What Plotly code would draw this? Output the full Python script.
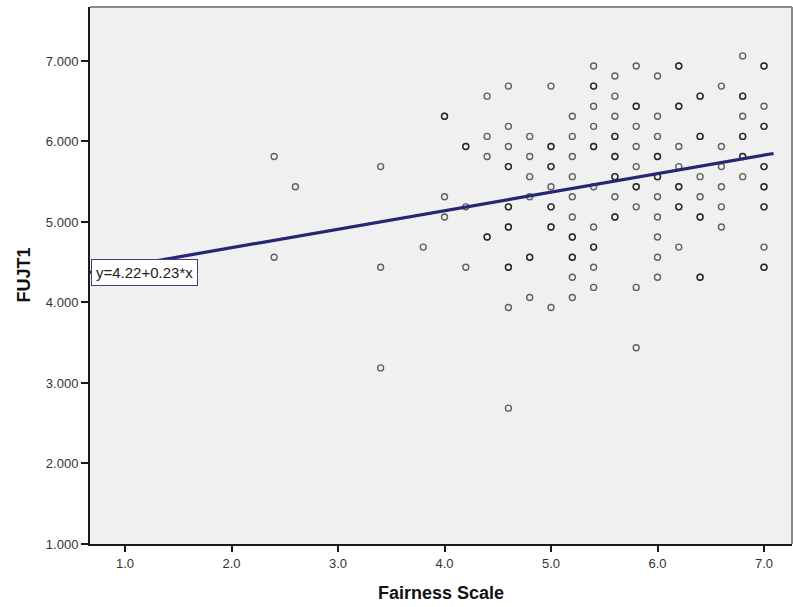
import plotly.graph_objects as go

# Fairness Scale (x) and FUJT1 (y); repeated pairs are overlapping cases
fairness = [2.4, 2.4, 2.6, 3.4, 3.4, 3.4, 3.8,
            4.0, 4.0, 4.0, 4.0,
            4.2, 4.2, 4.2, 4.2,
            4.4, 4.4, 4.4, 4.4, 4.4,
            4.6, 4.6, 4.6, 4.6, 4.6, 4.6, 4.6, 4.6, 4.6, 4.6, 4.6, 4.6, 4.6,
            4.8, 4.8, 4.8, 4.8, 4.8, 4.8, 4.8,
            5.0, 5.0, 5.0, 5.0, 5.0, 5.0, 5.0, 5.0, 5.0, 5.0, 5.0,
            5.2, 5.2, 5.2, 5.2, 5.2, 5.2, 5.2, 5.2, 5.2, 5.2, 5.2, 5.2,
            5.4, 5.4, 5.4, 5.4, 5.4, 5.4, 5.4, 5.4, 5.4, 5.4, 5.4, 5.4, 5.4,
            5.6, 5.6, 5.6, 5.6, 5.6, 5.6, 5.6, 5.6, 5.6, 5.6, 5.6, 5.6,
            5.8, 5.8, 5.8, 5.8, 5.8, 5.8, 5.8, 5.8, 5.8, 5.8, 5.8,
            6.0, 6.0, 6.0, 6.0, 6.0, 6.0, 6.0, 6.0, 6.0, 6.0, 6.0, 6.0,
            6.2, 6.2, 6.2, 6.2, 6.2, 6.2, 6.2, 6.2, 6.2, 6.2, 6.2,
            6.4, 6.4, 6.4, 6.4, 6.4, 6.4, 6.4, 6.4, 6.4, 6.4,
            6.6, 6.6, 6.6, 6.6, 6.6, 6.6,
            6.8, 6.8, 6.8, 6.8, 6.8, 6.8, 6.8, 6.8, 6.8,
            7.0, 7.0, 7.0, 7.0, 7.0, 7.0, 7.0, 7.0, 7.0, 7.0, 7.0, 7.0, 7.0, 7.0]
fujt1 = [5.8125, 4.5625, 5.4375, 5.6875, 4.4375, 3.1875, 4.6875,
         6.3125, 6.3125, 5.3125, 5.0625,
         5.9375, 5.9375, 5.1875, 4.4375,
         6.5625, 6.0625, 5.8125, 4.8125, 4.8125,
         6.6875, 6.1875, 5.9375, 5.6875, 5.6875, 5.1875, 5.1875, 4.9375, 4.9375, 4.4375, 4.4375, 3.9375, 2.6875,
         6.0625, 5.8125, 5.5625, 5.3125, 4.5625, 4.5625, 4.0625,
         6.6875, 5.9375, 5.9375, 5.6875, 5.6875, 5.4375, 5.1875, 5.1875, 4.9375, 4.9375, 3.9375,
         6.3125, 6.0625, 5.8125, 5.5625, 5.3125, 5.0625, 4.8125, 4.8125, 4.5625, 4.5625, 4.3125, 4.0625,
         6.9375, 6.6875, 6.6875, 6.4375, 6.1875, 5.9375, 5.9375, 5.4375, 4.9375, 4.6875, 4.6875, 4.4375, 4.1875,
         6.8125, 6.5625, 6.3125, 6.0625, 6.0625, 5.8125, 5.8125, 5.5625, 5.5625, 5.3125, 5.0625, 5.0625,
         6.9375, 6.4375, 6.4375, 6.1875, 5.9375, 5.6875, 5.4375, 5.4375, 5.1875, 4.1875, 3.4375,
         6.8125, 6.3125, 6.0625, 5.8125, 5.8125, 5.5625, 5.5625, 5.3125, 5.0625, 4.8125, 4.5625, 4.3125,
         6.9375, 6.9375, 6.4375, 6.4375, 5.9375, 5.6875, 5.4375, 5.4375, 5.1875, 5.1875, 4.6875,
         6.5625, 6.5625, 6.0625, 6.0625, 5.5625, 5.3125, 5.0625, 5.0625, 4.3125, 4.3125,
         6.6875, 5.9375, 5.6875, 5.4375, 5.1875, 4.9375,
         7.0625, 6.5625, 6.5625, 6.3125, 6.0625, 6.0625, 5.8125, 5.8125, 5.5625,
         6.9375, 6.9375, 6.4375, 6.1875, 6.1875, 5.6875, 5.6875, 5.4375, 5.4375, 5.1875, 5.1875, 4.6875, 4.4375, 4.4375]

# Fit line: y = 4.22 + 0.23*x
intercept = 4.22
slope = 0.23
fit_x = [0.671, 7.09]
fit_label = "y=4.22+0.23*x"

x_range = [0.671, 7.263]
y_range = [1.0, 7.67]
x_ticks = [1.0, 2.0, 3.0, 4.0, 5.0, 6.0, 7.0]
y_ticks = [1.0, 2.0, 3.0, 4.0, 5.0, 6.0, 7.0]

fit_y = [intercept + slope * v for v in fit_x]

fig = go.Figure()
fig.add_trace(go.Scatter(
    x=fairness, y=fujt1, mode="markers",
    marker=dict(symbol="circle-open", size=6, color="rgba(0,0,0,0.6)",
                line=dict(width=1.4)),
    showlegend=False, hoverinfo="x+y"))
fig.add_trace(go.Scatter(
    x=fit_x, y=fit_y, mode="lines",
    line=dict(color="#262673", width=3.2),
    showlegend=False))

font = "Liberation Sans, Arial, sans-serif"
fig.update_layout(
    width=793, height=607, autosize=False,
    margin=dict(l=90, r=1, t=7, b=63),
    paper_bgcolor="white", plot_bgcolor="#f0f0f0",
    font=dict(family=font, size=13, color="#333333"),
    xaxis=dict(range=x_range, tickvals=x_ticks, tickformat=".1f",
               showgrid=False, zeroline=False, showline=True,
               linecolor="#1a1a1a", linewidth=2, ticks="outside",
               ticklen=6, tickwidth=2, tickcolor="#1a1a1a",
               tickfont=dict(size=13, color="#333333")),
    yaxis=dict(range=y_range, tickvals=y_ticks, tickformat=".3f",
               showgrid=False, zeroline=False, showline=True,
               linecolor="#1a1a1a", linewidth=2, ticks="outside",
               ticklen=7, tickwidth=2, tickcolor="#1a1a1a",
               tickfont=dict(size=13, color="#333333")),
    shapes=[
        dict(type="line", xref="paper", yref="paper", x0=0, x1=1, y0=1, y1=1,
             line=dict(color="#8a8a8a", width=2)),
        dict(type="line", xref="paper", yref="paper", x0=1, x1=1, y0=0, y1=1,
             line=dict(color="#8a8a8a", width=2)),
    ],
    annotations=[
        dict(text=fit_label, xref="paper", x=0.0015, xanchor="left",
             yref="y", y=intercept + slope * fit_x[0], yanchor="middle",
             showarrow=False, bgcolor="white", bordercolor="#3c3c8c",
             borderwidth=1, borderpad=4,
             font=dict(family=font, size=15, color="#222222")),
        dict(text="<b>Fairness Scale</b>", xref="paper", x=0.5, xanchor="center",
             yref="paper", y=-0.0905, yanchor="middle", showarrow=False,
             font=dict(family=font, size=18, color="#111111")),
        dict(text="<b>FUJT1</b>", xref="paper", x=0, xshift=-67, xanchor="center",
             yref="paper", y=0.5, yanchor="middle", textangle=-90, showarrow=False,
             font=dict(family=font, size=18, color="#111111")),
    ],
)

fig.write_html("out.html")
